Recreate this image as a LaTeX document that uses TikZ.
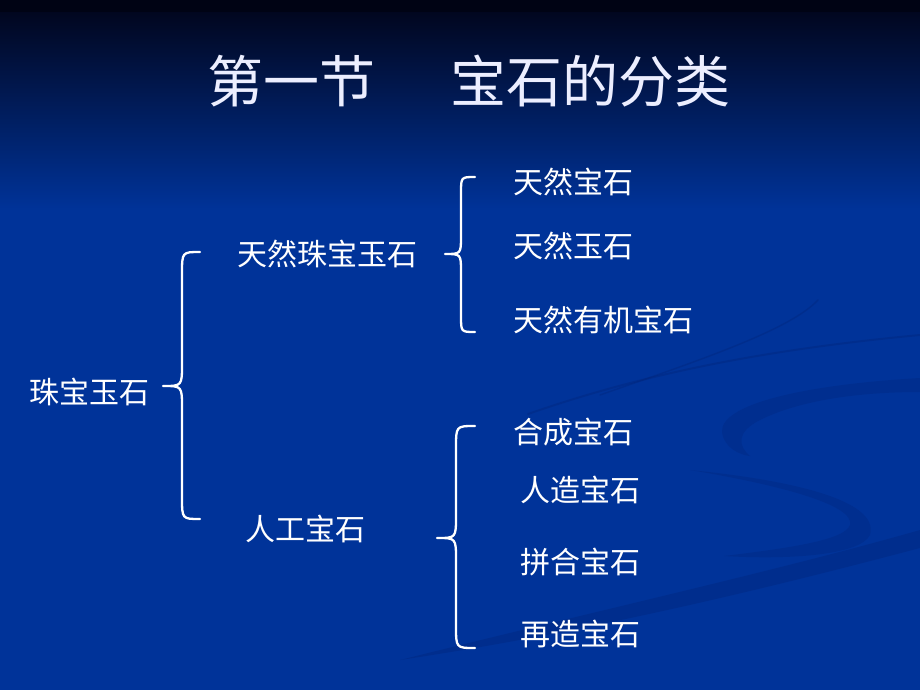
\documentclass[tikz,border=0pt]{standalone}
\usepackage{fontspec}
\newfontfamily\cjk{Noto Sans CJK SC}
\definecolor{bgtop}{RGB}{1,6,30}
\definecolor{bgstrip}{RGB}{0,3,20}
\definecolor{bgmain}{RGB}{0,51,153}
\definecolor{swoosh}{RGB}{0,36,120}
\definecolor{titlecol}{RGB}{236,238,255}
\tikzset{
  item/.style={anchor=west, inner sep=0pt, text=white, font=\cjk\fontsize{30}{36}\selectfont},
  bracepath/.style={draw=white, line width=2.3pt, line cap=round, line join=round},
  swooshline/.style={draw=swoosh, opacity=0.35, line cap=round},
  titletext/.style={inner sep=0pt, text=titlecol, font=\cjk\fontsize{56}{62}\selectfont}
}
\begin{document}
\begin{tikzpicture}[x=1pt,y=-1pt]
\useasboundingbox (0,0) rectangle (920,690);
% background
\fill[bgmain] (0,200) rectangle (920,690);
\shade[top color=bgtop, bottom color=bgmain] (0,10) rectangle (920,210);
\fill[bgstrip] (0,0) rectangle (920,12);
% faint swooshes
\fill[swoosh, opacity=0.35] (400,660) .. controls (600,610) and (780,570) .. (920,530)
   -- (920,548) .. controls (780,585) and (600,630) .. (400,660) -- cycle;
\draw[swooshline, line width=2pt] (528,414) .. controls (640,375) and (760,350) .. (920,335);
\draw[swooshline, line width=1.5pt] (600,395) .. controls (700,360) and (790,330) .. (818,300);
\fill[swoosh, opacity=0.3] (920,378) .. controls (800,385) and (720,405) .. (722,432)
   .. controls (724,448) and (740,455) .. (750,456)
   .. controls (738,446) and (736,432) .. (760,420)
   .. controls (800,400) and (860,392) .. (920,392) -- cycle;
\fill[swoosh, opacity=0.3] (690,470) .. controls (790,480) and (880,500) .. (870,535)
   .. controls (860,555) and (790,560) .. (724,556)
   .. controls (790,548) and (845,540) .. (850,525)
   .. controls (855,505) and (780,485) .. (690,470) -- cycle;
% title
\node[titletext] (title) at (469,81) {第一节\hspace{76pt}宝石的分类};
% texts
\node[item] (root) at (29,392) {珠宝玉石};
\node[item] (nat) at (237,254) {天然珠宝玉石};
\node[item] (art) at (245,529) {人工宝石};
\node[item] (n1) at (513,182) {天然宝石};
\node[item] (n2) at (513,246) {天然玉石};
\node[item] (n3) at (513,320) {天然有机宝石};
\node[item] (a1) at (513,432) {合成宝石};
\node[item] (a2) at (520,490) {人造宝石};
\node[item] (a3) at (520,562) {拼合宝石};
\node[item] (a4) at (520,634) {再造宝石};
% braces
\draw[bracepath] (200,252) .. controls (182,252) .. (182,274) -- (182,364)
   .. controls (182,386) .. (163,386) .. controls (182,386) .. (182,408)
   -- (182,497) .. controls (182,519) .. (200,519);
\draw[bracepath] (475,177) .. controls (461,177) .. (461,193) -- (461,236)
   .. controls (461,254) .. (445,254) .. controls (461,254) .. (461,272)
   -- (461,316) .. controls (461,332) .. (475,332);
\draw[bracepath] (475,426) .. controls (456,426) .. (456,448) -- (456,516)
   .. controls (456,538) .. (437,538) .. controls (456,538) .. (456,560)
   -- (456,626) .. controls (456,648) .. (475,648);
\end{tikzpicture}
\end{document}
